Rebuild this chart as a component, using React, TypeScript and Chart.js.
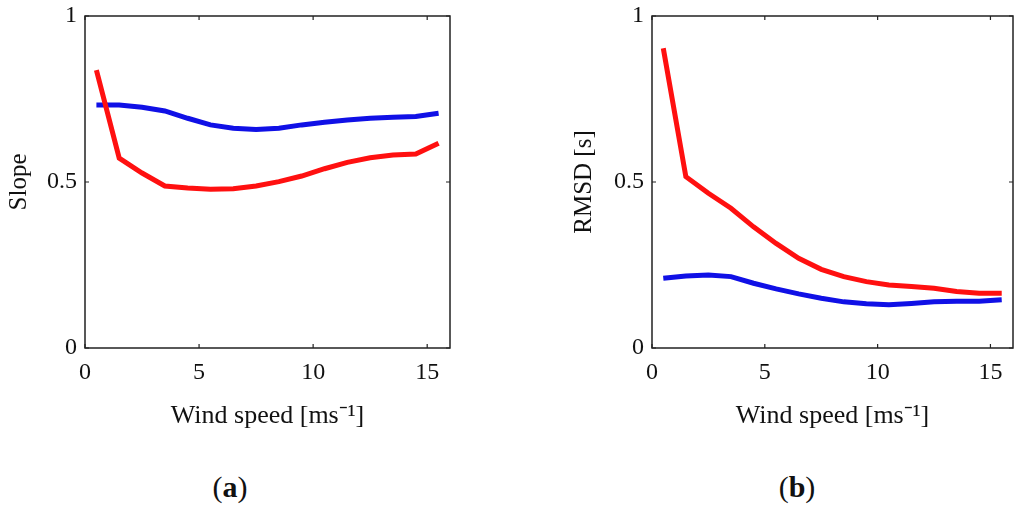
import { useEffect, useRef } from 'react'
import { Chart, registerables } from 'chart.js'

Chart.register(...registerables)

// wind speed bin centres [m/s]
const windSpeed = [0.5, 1.5, 2.5, 3.5, 4.5, 5.5, 6.5, 7.5, 8.5, 9.5, 10.5, 11.5, 12.5, 13.5, 14.5, 15.5]

const slopeRed = [0.837, 0.572, 0.527, 0.488, 0.482, 0.478, 0.48, 0.488, 0.501, 0.518, 0.54, 0.559, 0.573, 0.581, 0.584, 0.617]
const slopeBlue = [0.732, 0.732, 0.725, 0.714, 0.692, 0.672, 0.662, 0.658, 0.662, 0.672, 0.68, 0.687, 0.692, 0.695, 0.697, 0.707]

const rmsdRed = [0.903, 0.516, 0.466, 0.421, 0.365, 0.315, 0.27, 0.237, 0.215, 0.2, 0.19, 0.185, 0.18, 0.17, 0.165, 0.165]
const rmsdBlue = [0.21, 0.217, 0.22, 0.215, 0.195, 0.178, 0.163, 0.15, 0.139, 0.133, 0.13, 0.134, 0.139, 0.141, 0.141, 0.145]

const xTicks = [0, 5, 10, 15]
const yTicks = [0, 0.5, 1]

const FONT = '"Liberation Serif", "Times New Roman", serif'

// matlab style box with inward tick marks
const boxPlugin = {
  id: 'matlabBox',
  afterDatasetsDraw(chart: any) {
    const { ctx, chartArea: a, scales } = chart
    ctx.save()
    ctx.strokeStyle = '#222'
    ctx.lineWidth = 1.5
    ctx.strokeRect(a.left, a.top, a.right - a.left, a.bottom - a.top)
    ctx.lineWidth = 1.2
    const len = 4
    ctx.beginPath()
    xTicks.forEach((v) => {
      const px = scales.x.getPixelForValue(v)
      ctx.moveTo(px, a.bottom)
      ctx.lineTo(px, a.bottom - len)
      ctx.moveTo(px, a.top)
      ctx.lineTo(px, a.top + len)
    })
    yTicks.forEach((v) => {
      const py = scales.y.getPixelForValue(v)
      ctx.moveTo(a.left, py)
      ctx.lineTo(a.left + len, py)
      ctx.moveTo(a.right, py)
      ctx.lineTo(a.right - len, py)
    })
    ctx.stroke()
    ctx.restore()
  },
}

interface PanelProps {
  red: number[]
  blue: number[]
  yTitle: string
  yAxisWidth: number
  rightPad: number
}

function Panel({ red, blue, yTitle, yAxisWidth, rightPad }: PanelProps) {
  const canvasRef = useRef<HTMLCanvasElement>(null)
  const chartRef = useRef<Chart | null>(null)

  useEffect(() => {
    if (!canvasRef.current) return
    const ctx = canvasRef.current.getContext('2d')
    if (!ctx) return

    if (chartRef.current) {
      chartRef.current.destroy()
    }

    chartRef.current = new Chart(ctx, {
      type: 'line',
      data: {
        datasets: [
          {
            label: 'red',
            data: windSpeed.map((x, i) => ({ x, y: red[i] })),
            borderColor: '#ff1010',
            borderWidth: 5,
            pointRadius: 0,
            tension: 0,
            fill: false,
          },
          {
            label: 'blue',
            data: windSpeed.map((x, i) => ({ x, y: blue[i] })),
            borderColor: '#1010e6',
            borderWidth: 5,
            pointRadius: 0,
            tension: 0,
            fill: false,
          },
        ],
      },
      options: {
        animation: false,
        responsive: true,
        maintainAspectRatio: false,
        layout: { padding: { top: 16, right: rightPad, bottom: 0, left: 0 } },
        plugins: {
          legend: { display: false },
          tooltip: { enabled: false },
        },
        scales: {
          x: {
            type: 'linear',
            min: 0,
            max: 16,
            afterFit: (s: any) => {
              s.height = 88
              s.paddingLeft = 0
              s.paddingRight = 0
            },
            afterBuildTicks: (s: any) => { s.ticks = xTicks.map((v) => ({ value: v })) },
            ticks: {
              color: '#111',
              font: { family: FONT, size: 24 },
              padding: 10,
              maxRotation: 0,
              callback: (v: any) => String(v),
            },
            grid: { display: false, drawTicks: false },
            border: { display: false },
            title: {
              display: true,
              text: 'Wind speed [ms⁻¹]',
              color: '#111',
              font: { family: FONT, size: 26 },
            },
          },
          y: {
            type: 'linear',
            min: 0,
            max: 1,
            afterFit: (s: any) => {
              s.width = yAxisWidth
              s.paddingTop = 0
              s.paddingBottom = 0
            },
            afterBuildTicks: (s: any) => { s.ticks = yTicks.map((v) => ({ value: v })) },
            ticks: {
              color: '#111',
              font: { family: FONT, size: 24 },
              padding: 8,
              callback: (v: any) => String(v),
            },
            grid: { display: false, drawTicks: false },
            border: { display: false },
            title: {
              display: true,
              text: yTitle,
              color: '#111',
              font: { family: FONT, size: 25 },
            },
          },
        },
      },
      plugins: [boxPlugin],
    })

    return () => {
      if (chartRef.current) {
        chartRef.current.destroy()
        chartRef.current = null
      }
    }
  }, [red, blue, yTitle, yAxisWidth, rightPad])

  return <canvas ref={canvasRef} />
}

export default function App() {
  const label = { position: 'absolute' as const, top: 470, fontFamily: FONT, fontSize: 30, color: '#111', width: 100, textAlign: 'center' as const }
  return (
    <div style={{ position: 'fixed', left: 0, top: 0, width: 1024, height: 513, background: '#fff' }}>
      <div style={{ position: 'absolute', left: 0, top: 0, width: 480, height: 436 }}>
        <Panel red={slopeRed} blue={slopeBlue} yTitle="Slope" yAxisWidth={85} rightPad={30} />
      </div>
      <div style={{ position: 'absolute', left: 565, top: 0, width: 459, height: 436 }}>
        <Panel red={rmsdRed} blue={rmsdBlue} yTitle="RMSD [s]" yAxisWidth={87} rightPad={11} />
      </div>
      <div style={{ ...label, left: 180 }}>(<b>a</b>)</div>
      <div style={{ ...label, left: 747 }}>(<b>b</b>)</div>
    </div>
  )
}
